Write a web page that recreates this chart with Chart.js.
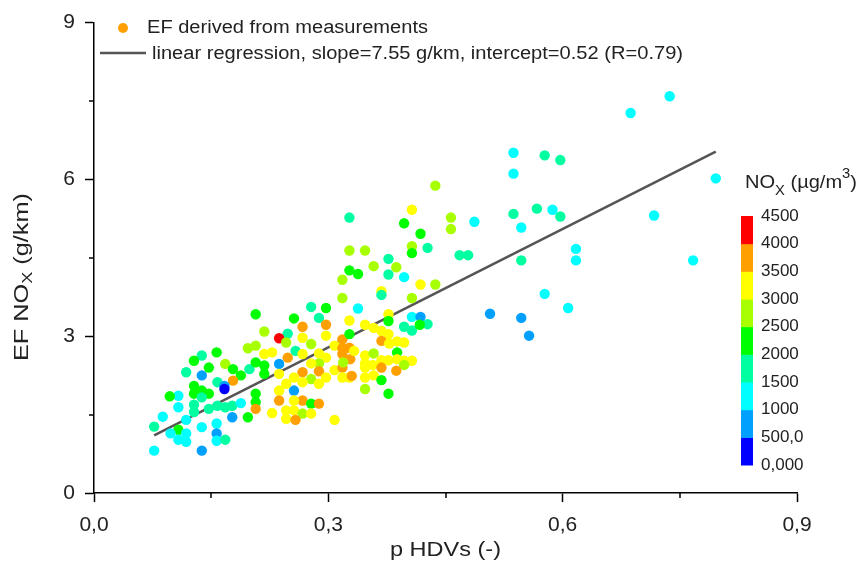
<!DOCTYPE html>
<html>
<head>
<meta charset="utf-8">
<script src="https://cdn.jsdelivr.net/npm/chart.js@4"></script>
<style>
html,body{margin:0;padding:0;background:#fff;}
#wrap{width:866px;height:563px;}
</style>
</head>
<body>
<div id="wrap"><canvas id="c" width="866" height="563"></canvas></div>
<script>
// ---- data ----
const hdvShare = [
0.737,0.687,0.537,0.577,0.597,0.537,0.796,0.457,0.457,0.487,0.537,0.567,0.587,0.597,0.547,0.717,0.468,0.479,0.547,0.617,0.617,0.767,0.577,0.607,0.507,0.547,0.557,
0.437,0.407,0.397,0.418,0.327,0.327,0.347,0.407,0.407,0.427,0.377,0.358,0.387,0.377,0.327,0.338,0.318,0.397,0.418,0.437,0.368,0.368,0.318,0.407,
0.338,0.278,0.297,0.288,0.327,0.256,0.407,0.418,0.377,0.377,0.397,0.407,0.427,0.417,0.267,0.297,0.297,0.248,0.237,0.267,
0.347,0.358,0.368,0.377,0.368,0.378,0.388,0.397,0.278,0.258,0.246,0.318,0.327,0.308,0.318,0.327,0.318,0.328,0.297,0.288,0.267,0.248,0.237,
0.347,0.358,0.388,0.368,0.377,0.388,0.397,0.407,0.397,0.347,0.357,0.368,0.387,0.288,0.278,0.267,0.288,0.308,0.318,0.327,0.318,0.297,0.278,0.256,0.237,
0.347,0.347,0.358,0.368,0.377,0.347,0.288,0.267,0.256,0.246,0.237,0.267,0.278,0.288,0.256,0.237,0.246,0.256,0.267,0.278,0.246,0.258,0.308,
0.333,0.319,0.330,
0.207,0.218,0.197,0.207,0.218,0.228,0.157,0.138,0.128,0.118,0.138,0.147,0.168,0.178,0.199,0.207,0.218,0.218,0.188,0.178,0.158,0.167,0.167,
0.128,0.128,0.138,0.147,0.138,0.108,0.097,0.108,0.128,0.128,0.147,0.158,0.168,0.177,0.188,0.207,0.207,0.207,0.177,0.197,0.228,
0.088,0.077,0.118,0.108,0.098,0.118,0.108,0.118,0.138,0.157,0.157,0.157,0.168,0.077,0.138
];
const efNOx = [
7.59,7.27,6.51,6.46,6.37,6.11,6.02,5.27,5.05,5.19,5.34,5.44,5.42,5.29,5.08,5.31,4.55,4.55,4.45,4.67,4.45,4.45,3.81,3.54,3.43,3.35,3.01,
5.88,5.42,5.16,4.96,5.27,4.64,4.64,4.72,4.59,4.69,4.48,4.34,4.32,4.18,4.26,4.19,4.08,4.13,3.99,3.99,3.86,3.79,3.73,3.73,
3.53,3.56,3.54,3.35,3.30,3.34,3.37,3.37,3.42,3.29,3.18,3.11,3.23,3.22,3.18,3.22,3.01,3.05,2.96,2.97,
3.22,3.16,3.10,3.04,2.91,2.86,2.90,2.88,2.85,2.72,2.88,2.94,3.04,2.82,2.77,2.78,2.66,2.56,2.59,2.67,2.66,2.59,2.47,
2.63,2.67,2.69,2.54,2.54,2.56,2.53,2.53,2.45,2.48,2.45,2.40,2.34,2.48,2.48,2.31,2.33,2.35,2.40,2.21,2.21,2.21,2.18,2.21,2.28,
2.40,2.21,2.25,2.16,1.90,1.99,2.09,2.12,1.96,2.09,1.96,1.77,1.71,1.71,1.77,1.77,1.58,1.58,1.52,1.52,1.42,1.40,1.40,
2.72,2.50,2.24,
3.42,3.09,2.77,2.82,2.66,2.69,2.69,2.63,2.53,2.31,2.25,2.40,2.47,2.37,2.37,2.50,2.44,2.28,2.25,2.15,2.12,2.05,1.99,
2.05,1.90,1.96,1.90,1.83,1.86,1.85,1.64,1.69,1.55,1.61,1.67,1.64,1.67,1.72,1.90,1.74,1.61,1.45,1.45,1.53,
1.46,1.27,1.40,1.21,1.14,1.14,1.02,0.98,1.26,1.33,1.14,1.00,1.02,0.81,0.81
];
const noxConc = [
1250,1250,1200,1750,1700,1250,1200,2750,2700,1200,1750,1700,1250,1750,1200,1250,1750,1700,1750,1250,1200,1250,1250,1200,750,750,700,
2750,3250,2250,2250,1750,2750,2700,2750,2250,1750,1750,2700,2750,1750,2250,2250,2750,1250,3250,2700,3250,1750,2750,2700,
1250,1750,2250,1750,3250,2250,1250,750,3250,2250,1750,1750,1750,2250,3750,3750,3250,1750,4250,3250,
3250,3250,3250,3250,3750,3250,3250,3250,2750,1750,2750,3750,2250,3250,3750,3750,3750,3750,3250,3250,3250,3750,750,
3250,2750,2250,3250,3250,3250,3250,3250,2750,3250,3250,3750,3750,2750,3250,3750,3750,3250,3750,3250,3250,3250,2750,3250,3250,
3250,3250,3250,2250,2250,2750,3250,3250,750,3250,3250,3750,2250,3750,3250,3750,3250,3250,2750,3250,3250,3750,3250,
3250,2750,3750,
2250,2750,2750,2750,3250,3250,2250,1750,2250,1750,750,2250,2750,2250,1750,2250,2250,2250,2250,3750,1750,750,300,
2250,2250,2250,2250,1750,1250,2250,1250,1750,1750,1750,1750,1750,1750,1250,2250,2250,3750,750,2250,3250,
1250,1750,1250,2250,1250,1250,1250,1250,1250,1250,750,1250,1750,1250,750
];
const colorBins = [0,500,1000,1500,2000,2500,3000,3500,4000,4500];
const colorBinLabels = ['0,000','500,0','1000','1500','2000','2500','3000','3500','4000','4500'];
const regSlope = 7.55;
const regIntercept = 0.52;
const legendLabels = ['EF derived from measurements','linear regression, slope=7.55 g/km, intercept=0.52 (R=0.79)'];
const xTitle = 'p HDVs (-)';

// ---- styling ----
const palette = ['#0000ff','#00a0ff','#00ffff','#00ffa0','#00ff00','#a8ff00','#ffff00','#ffa000','#ff0000'];
function colorFor(v){
  let i = 0;
  for (let k=0;k<colorBins.length-1;k++){ if (v>=colorBins[k]) i=k; }
  return palette[i];
}
const pts = hdvShare.map((x,i)=>({x:x,y:efNOx[i]}));
const ptColors = noxConc.map(colorFor);
const xMin = Math.min(...hdvShare), xMax = Math.max(...hdvShare);
const regLine = [{x:xMin,y:regIntercept+regSlope*xMin},{x:xMax,y:regIntercept+regSlope*xMax}];

const FONT = '"Liberation Sans", Arial, sans-serif';
const txtColor = '#222';

// draw a run of [text, sizePx, dy] segments stretched to a target length
function drawRuns(ctx, runs, x, y, targetW, align){
  let w = 0;
  runs.forEach(r=>{ ctx.font = r[1]+'px '+FONT; r.w = ctx.measureText(r[0]).width; w += r.w; });
  const s = targetW ? targetW / w : 1;
  ctx.save();
  ctx.translate(x, y);
  ctx.scale(s, 1);
  let cx = align==='center' ? -w/2 : 0;
  ctx.textBaseline = 'middle'; ctx.textAlign = 'left';
  runs.forEach(r=>{ ctx.font = r[1]+'px '+FONT; ctx.fillText(r[0], cx, r[2]); cx += r.w; });
  ctx.restore();
}

const decor = {
  id:'decor',
  afterDraw(chart){
    const ctx = chart.ctx;
    const xs = chart.scales.x, ys = chart.scales.y;
    ctx.save();
    // minor ticks
    ctx.strokeStyle = '#000'; ctx.lineWidth = 1.5;
    [0.15,0.45,0.75].forEach(v=>{
      const px = Math.round(xs.getPixelForValue(v));
      ctx.beginPath(); ctx.moveTo(px, ys.bottom); ctx.lineTo(px, ys.bottom+5); ctx.stroke();
    });
    [1.5,4.5,7.5].forEach(v=>{
      const py = Math.round(ys.getPixelForValue(v));
      ctx.beginPath(); ctx.moveTo(xs.left, py); ctx.lineTo(xs.left-5, py); ctx.stroke();
    });
    ctx.fillStyle = txtColor;
    // x title
    drawRuns(ctx, [[xTitle,21,0]], (xs.left+xs.right)/2, 550, 111, 'center');
    // y title with subscript
    ctx.save();
    ctx.translate(22, 277);
    ctx.rotate(-Math.PI/2);
    drawRuns(ctx, [['EF NO',21,0],['X',15,6],[' (g/km)',21,0]], 0, 0, 168, 'center');
    ctx.restore();

    // legend
    ctx.fillStyle = '#ffa000';
    ctx.beginPath(); ctx.arc(123, 28, 5, 0, Math.PI*2); ctx.fill();
    ctx.fillStyle = txtColor;
    drawRuns(ctx, [[legendLabels[0],18,0]], 147, 28, 281, 'left');
    ctx.strokeStyle = '#555'; ctx.lineWidth = 2.5;
    ctx.beginPath(); ctx.moveTo(100, 53); ctx.lineTo(146, 53); ctx.stroke();
    drawRuns(ctx, [[legendLabels[1],18,0]], 152, 54, 531, 'left');

    // colorbar
    const cbx = 741, cbw = 12, cbTop = 216, cbBot = 465;
    const n = palette.length, h = (cbBot-cbTop)/n;
    for (let i=0;i<n;i++){
      ctx.fillStyle = palette[i];
      ctx.fillRect(cbx, cbBot-(i+1)*h, cbw, h+0.5);
    }
    ctx.fillStyle = txtColor;
    colorBinLabels.forEach((lab,i)=>{ drawRuns(ctx, [[lab,17,0]], 761, cbBot - i*h, 0, 'left'); });
    // colorbar title
    drawRuns(ctx, [['NO',19,0],['X',14,8],[' (\u00b5g/m',19,0],['3',14,-9],[')',19,0]], 745, 183, 112, 'left');
    ctx.restore();
  }
};

new Chart(document.getElementById('c'), {
  type:'scatter',
  data:{
    datasets:[
      {label:legendLabels[0], data:pts, backgroundColor:ptColors, borderWidth:0, pointRadius:5.2, pointHoverRadius:5.2},
      {label:legendLabels[1], type:'line', data:regLine, borderColor:'#555', borderWidth:2.5, pointRadius:0, fill:false}
    ]
  },
  options:{
    responsive:false, animation:false, devicePixelRatio:1,
    layout:{padding:{top:20,right:69,left:0,bottom:0}},
    plugins:{legend:{display:false}, tooltip:{enabled:false}},
    scales:{
      x:{type:'linear', min:0, max:0.9,
        afterFit(s){ s.height = 70; },
        border:{display:true,color:'#000',width:1.5},
        grid:{drawOnChartArea:false, drawTicks:true, tickLength:9, tickWidth:1.5,
          tickColor:(c)=> (c.tick && Math.round(c.tick.value/0.15)%2===0) ? '#000' : 'rgba(0,0,0,0)'},
        ticks:{stepSize:0.15, autoSkip:false, maxRotation:0, color:txtColor, font:{family:FONT,size:21}, padding:11,
          callback:(v)=> Math.round(v/0.15)%2===0 ? Number(v).toFixed(1).replace('.',',') : ''},
        title:{display:false}
      },
      y:{type:'linear', min:0, max:9,
        afterFit(s){ s.width = 94; },
        border:{display:true,color:'#000',width:1.5},
        grid:{drawOnChartArea:false, drawTicks:true, tickLength:9, tickWidth:1.5,
          tickColor:(c)=> (c.tick && Math.round(c.tick.value/1.5)%2===0) ? '#000' : 'rgba(0,0,0,0)'},
        ticks:{stepSize:1.5, autoSkip:false, color:txtColor, font:{family:FONT,size:21}, padding:10,
          callback:(v)=> Math.round(v/1.5)%2===0 ? String(Math.round(v)) : ''}
      }
    }
  },
  plugins:[decor]
});
</script>
</body>
</html>
